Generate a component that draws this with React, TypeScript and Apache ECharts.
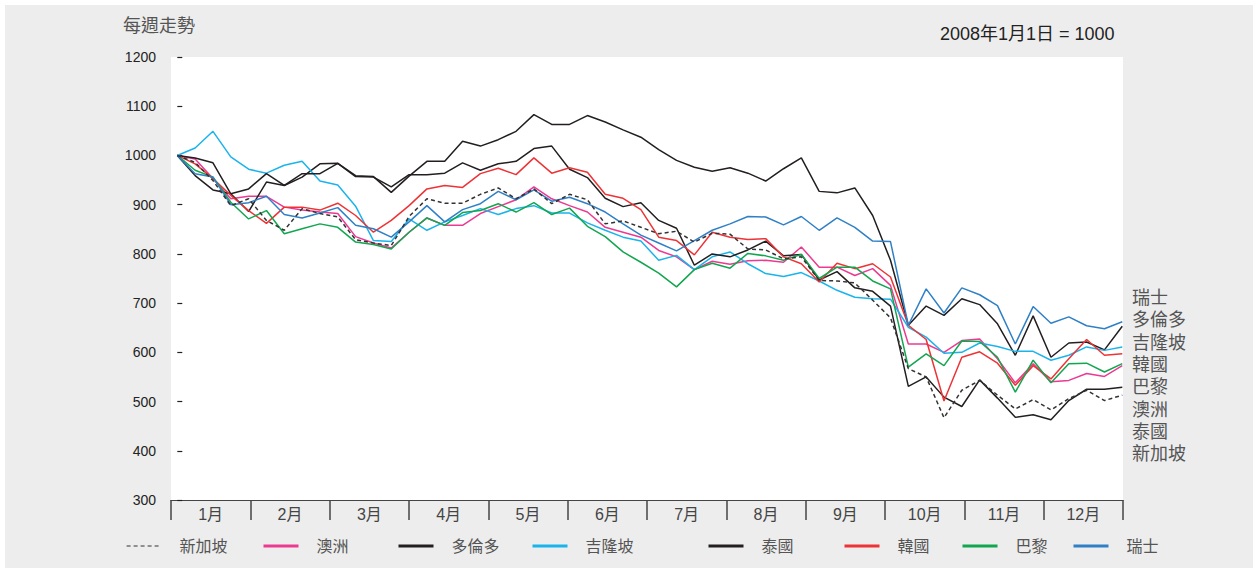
import React, { useEffect, useRef } from "react";
import * as echarts from "echarts";

const months = ["1月", "2月", "3月", "4月", "5月", "6月", "7月", "8月", "9月", "10月", "11月", "12月"];
const yTicks = [300, 400, 500, 600, 700, 800, 900, 1000, 1100, 1200];

const singapore = [1000, 986, 949, 898, 912, 868, 848, 892, 882, 875, 829, 822, 817, 876, 912, 903, 903,
  921, 934, 912, 932, 902, 921, 910, 861, 867, 854, 841, 846, 824, 842, 840, 810,
  808, 790, 794, 746, 745, 741, 706, 670, 567,
  550, 467, 523, 543, 513, 485, 504, 483, 506, 523, 502, 513];
const australia = [1000, 993, 953, 912, 917, 917, 895, 889, 885, 882, 835, 822, 812, 844, 873, 858, 858,
  882, 896, 910, 936, 912, 898, 885, 854, 844, 834, 807, 794, 768, 785, 779, 786,
  787, 783, 814, 773, 773, 756, 770, 736, 617,
  617, 600, 624, 627, 587, 538, 577, 540, 543, 557, 551, 573];
const toronto = [1000, 995, 985, 922, 886, 946, 939, 956, 983, 984, 959, 957, 925, 958, 988, 988, 1029,
  1019, 1032, 1049, 1083, 1063, 1063, 1081, 1068, 1052, 1037, 1012, 990, 976, 968, 975, 964,
  948, 973, 995, 927, 924, 934, 878, 787, 655,
  694, 675, 709, 697, 658, 594, 674, 590, 619, 621, 605, 653];
const kualaLumpur = [1000, 1015, 1049, 997, 972, 964, 980, 988, 948, 940, 897, 827, 825, 871, 848, 865, 878,
  892, 880, 892, 898, 883, 883, 863, 848, 834, 826, 787, 797, 768, 794, 804, 780,
  760, 754, 762, 745, 726, 712, 709, 708, 651,
  631, 598, 600, 619, 612, 602, 602, 584, 594, 611, 604, 611];
const thailand = [1000, 959, 930, 922, 932, 963, 939, 963, 963, 984, 957, 956, 936, 961, 961, 964, 985,
  970, 983, 988, 1014, 1019, 972, 955, 913, 896, 904, 868, 852, 777, 800, 794, 808,
  826, 796, 799, 747, 764, 731, 724, 694, 531,
  550, 509, 490, 544, 507, 468, 473, 463, 502, 525, 525, 529];
const korea = [1000, 983, 953, 919, 888, 862, 895, 895, 889, 903, 878, 844, 868, 898, 932, 939, 935,
  963, 974, 961, 995, 964, 975, 966, 921, 913, 890, 834, 827, 798, 844, 834, 829,
  831, 794, 780, 743, 781, 770, 780, 753, 655,
  626, 501, 590, 601, 578, 533, 573, 546, 587, 626, 594, 597];
const paris = [1000, 970, 956, 905, 871, 888, 841, 851, 861, 854, 824, 819, 810, 844, 873, 858, 884,
  888, 902, 885, 904, 880, 893, 856, 835, 804, 783, 761, 733, 768, 781, 771, 801,
  796, 787, 799, 750, 773, 773, 745, 729, 570,
  597, 573, 623, 622, 590, 519, 584, 538, 577, 578, 560, 577];
const swiss = [1000, 963, 956, 900, 904, 917, 880, 873, 883, 894, 858, 851, 834, 865, 898, 865, 890,
  902, 927, 910, 930, 907, 915, 902, 885, 861, 838, 822, 806, 827, 848, 861, 876,
  875, 859, 876, 848, 873, 854, 826, 825, 655,
  729, 680, 731, 717, 695, 617, 693, 659, 672, 654, 648, 662];

const names = ["新加坡", "澳洲", "多倫多", "吉隆坡", "泰國", "韓國", "巴黎", "瑞士"];
const colors = ["#333333", "#ec3a93", "#231f20", "#1ab4ec", "#231f20", "#ee3336", "#12a650", "#2f80c6"];
const values = [singapore, australia, toronto, kualaLumpur, thailand, korea, paris, swiss];
const legendLeft = [126, 262, 397, 531, 707, 843, 961, 1072];
const rightLabels = ["瑞士", "多倫多", "吉隆坡", "韓國", "巴黎", "澳洲", "泰國", "新加坡"];

const FONT = "'Liberation Sans', 'Noto Sans CJK TC', sans-serif";

export default function App() {
  const ref = useRef<HTMLDivElement>(null);
  useEffect(() => {
    const chart = echarts.init(ref.current!, null, { renderer: "svg" });
    const series = names.map((n, k) => ({
      name: n,
      type: "line",
      xAxisIndex: 1,
      yAxisIndex: 0,
      data: values[k].map((v, i) => [i, v]),
      showSymbol: false,
      symbol: "none",
      lineStyle: { color: colors[k], width: 1.5, type: k === 0 ? [4, 3] : "solid" },
      itemStyle: { color: colors[k] },
      z: k === 0 ? 10 : 2 + k,
    }));
    const legends = names.map((n, k) => ({
      data: [n],
      left: legendLeft[k],
      top: 538,
      padding: 0,
      itemWidth: 35,
      itemHeight: 14,
      selectedMode: false,
      itemStyle: { opacity: 0 },
      lineStyle: { width: k === 0 ? 1.2 : 3 },
      textStyle: { fontFamily: FONT, fontSize: 16, color: "#555", padding: [0, 0, 0, 13] },
    }));
    chart.setOption({
      animation: false,
      backgroundColor: "#ededed",
      textStyle: { fontFamily: FONT },
      grid: { left: 171, right: 130, top: 57, bottom: 68, show: true, backgroundColor: "#ffffff", borderWidth: 0 },
      xAxis: [
        {
          type: "category",
          data: months,
          boundaryGap: true,
          position: "bottom",
          axisLine: { show: true, lineStyle: { color: "#444", width: 1.2 } },
          axisTick: { show: true, length: 20, alignWithLabel: false, lineStyle: { color: "#444", width: 1.5 } },
          axisLabel: { color: "#444", fontSize: 16, margin: 6, fontFamily: FONT },
          splitLine: { show: false },
        },
        {
          type: "value",
          min: -0.353,
          max: 53.04,
          show: false,
        },
      ],
      yAxis: [
        {
          type: "value",
          min: 300,
          max: 1200,
          interval: 100,
          axisLine: { show: false },
          axisTick: { show: true, inside: true, length: 5, lineStyle: { color: "#222", width: 1.2 } },
          axisLabel: {
            color: "#222",
            fontSize: 14,
            margin: 15,
            fontFamily: FONT,
            formatter: (v: number) => (yTicks.includes(v) ? String(v) : ""),
          },
          splitLine: { show: false },
        },
      ],
      legend: legends,
      series,
      graphic: [
        { type: "rect", left: 0, top: 0, shape: { width: 1253, height: 5 }, style: { fill: "#ffffff" }, silent: true },
        { type: "rect", left: 0, top: 0, shape: { width: 5, height: 568 }, style: { fill: "#ffffff" }, silent: true },
        {
          type: "text",
          left: 123,
          top: 17,
          style: { text: "每週走勢", fontSize: 18, fill: "#555", fontFamily: FONT },
        },
        {
          type: "text",
          left: 940,
          top: 25,
          style: { text: "2008年1月1日 = 1000", fontSize: 18, fill: "#222", fontFamily: FONT },
        },
        ...rightLabels.map((t, k) => ({
          type: "text",
          left: 1132,
          top: 289 + k * 22.3,
          style: { text: t, fontSize: 18, fill: "#555", fontFamily: FONT },
        })),
      ],
    });
    return () => chart.dispose();
  }, []);
  return <div ref={ref} style={{ position: "fixed", left: 0, top: 0, width: 1253, height: 568 }} />;
}
